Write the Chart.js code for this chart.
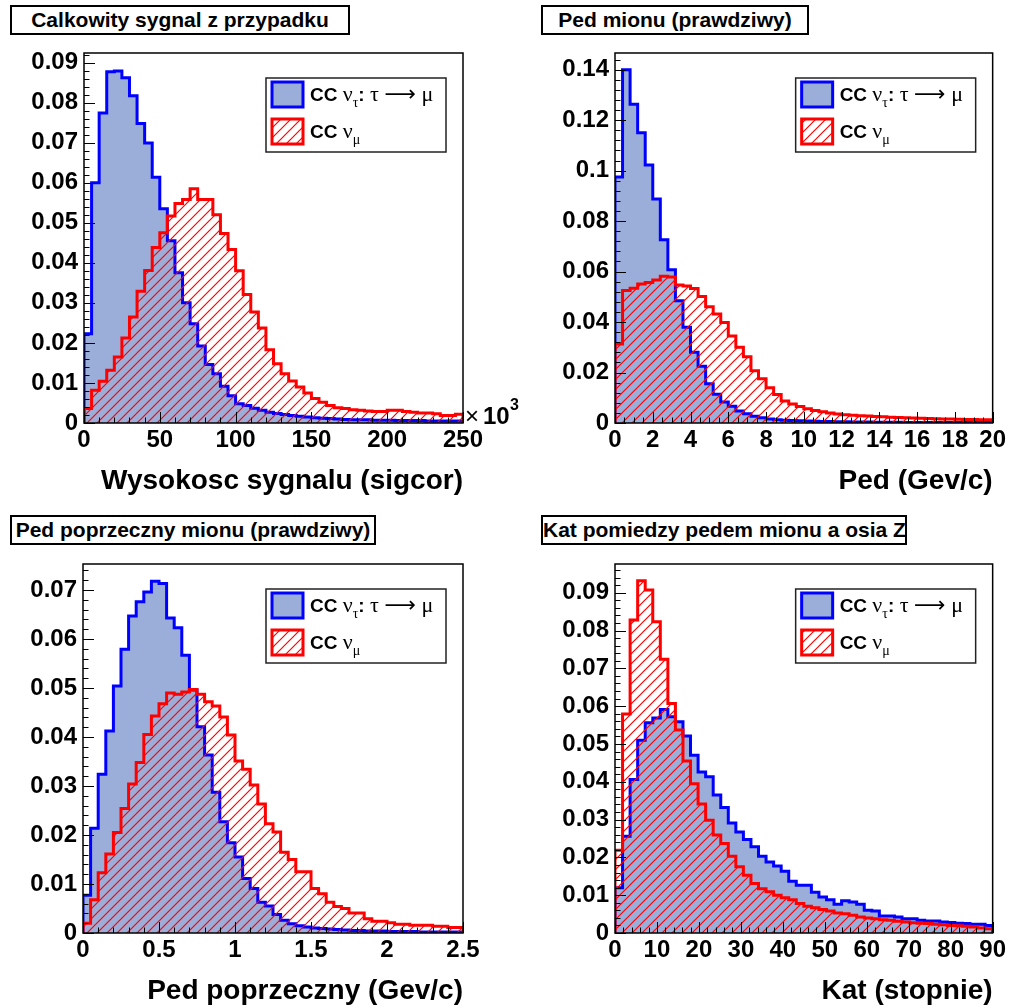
<!DOCTYPE html>
<html>
<head>
<meta charset="utf-8">
<script src="https://cdn.jsdelivr.net/npm/chart.js@4.4.0/dist/chart.umd.min.js"></script>
<style>
  html, body { margin: 0; padding: 0; background: #fff; overflow: hidden; }
  body { width: 1009px; height: 1008px; position: relative; }
  canvas { position: absolute; }
  .ttl {
    position: absolute; box-sizing: border-box; height: 30px;
    border: 2px solid #000; background: #fff; color: #000;
    font: bold 21px "Liberation Sans", Arial, sans-serif;
    line-height: 26px; text-align: center; white-space: nowrap;
  }
</style>
</head>
<body>
<canvas id="c1" width="530" height="500" style="left:0;top:0"></canvas>
<canvas id="c2" width="504" height="500" style="left:505px;top:0"></canvas>
<canvas id="c3" width="530" height="508" style="left:0;top:500px"></canvas>
<canvas id="c4" width="504" height="508" style="left:505px;top:500px"></canvas>
<div class="ttl" style="left:10px;top:5px;width:340px">Calkowity sygnal z przypadku</div>
<div class="ttl" style="left:541px;top:5px;width:268px">Ped mionu (prawdziwy)</div>
<div class="ttl" style="left:10px;top:515px;width:366px">Ped poprzeczny mionu (prawdziwy)</div>
<div class="ttl" style="left:541px;top:515px;width:366px">Kat pomiedzy pedem mionu a osia Z</div>
<script>
// ---- dane: 50 binow na kazdy histogram ----
const sigRange = [0, 250];
const sigTau = [0.0223, 0.0600, 0.0774, 0.0877, 0.0879, 0.0862, 0.0817, 0.0748, 0.0699, 0.0614,
  0.0535, 0.0455, 0.0375, 0.0300, 0.0248, 0.0192, 0.0146, 0.0123, 0.0092, 0.0068,
  0.0048, 0.0044, 0.0037, 0.0032, 0.0027, 0.0024, 0.0021, 0.0019, 0.0017, 0.0015,
  0.0013, 0.0012, 0.0011, 0.0010, 0.0009, 0.0008, 0.0008, 0.0008, 0.0007, 0.0007,
  0.0007, 0.0006, 0.0006, 0.0006, 0.0006, 0.0005, 0.0005, 0.0005, 0.0005, 0.0005];
const sigMu = [0.0036, 0.0082, 0.0104, 0.0132, 0.0165, 0.0212, 0.0265, 0.0329, 0.0381, 0.0438,
  0.0475, 0.0517, 0.0548, 0.0558, 0.0585, 0.0558, 0.0558, 0.0520, 0.0473, 0.0433,
  0.0380, 0.0321, 0.0277, 0.0237, 0.0183, 0.0148, 0.0123, 0.0105, 0.0090, 0.0075,
  0.0061, 0.0052, 0.0044, 0.0038, 0.0036, 0.0033, 0.0032, 0.0030, 0.0029, 0.0029,
  0.0032, 0.0032, 0.0029, 0.0027, 0.0025, 0.0025, 0.0023, 0.0019, 0.0019, 0.0022];
const sigXLabels = ['0', '50', '100', '150', '200', '250'];
const sigYLabels = ['0', '0.01', '0.02', '0.03', '0.04', '0.05', '0.06', '0.07', '0.08', '0.09'];

const pRange = [0, 20];
const pTau = [0.0975, 0.1400, 0.1263, 0.1150, 0.1022, 0.0888, 0.0726, 0.0607, 0.0484, 0.0379,
  0.0280, 0.0225, 0.0156, 0.0114, 0.0083, 0.0066, 0.0048, 0.0037, 0.0027, 0.0021,
  0.0016, 0.0013, 0.0011, 0.0010, 0.0009, 0.0008, 0.0007, 0.0006, 0.0006, 0.0005,
  0.0005, 0.0004, 0.0004, 0.0004, 0.0003, 0.0003, 0.0003, 0.0003, 0.0002, 0.0002,
  0.0002, 0.0002, 0.0002, 0.0002, 0.0002, 0.0002, 0.0002, 0.0002, 0.0002, 0.0002];
const pMu = [0.0313, 0.0525, 0.0534, 0.0551, 0.0557, 0.0567, 0.0581, 0.0578, 0.0547, 0.0543,
  0.0533, 0.0501, 0.0461, 0.0432, 0.0398, 0.0345, 0.0300, 0.0262, 0.0207, 0.0175,
  0.0140, 0.0113, 0.0087, 0.0075, 0.0065, 0.0056, 0.0050, 0.0045, 0.0040, 0.0036,
  0.0033, 0.0031, 0.0029, 0.0028, 0.0026, 0.0025, 0.0023, 0.0022, 0.0021, 0.0020,
  0.0019, 0.0018, 0.0017, 0.0016, 0.0016, 0.0015, 0.0014, 0.0014, 0.0013, 0.0013];
const pXLabels = ['0', '2', '4', '6', '8', '10', '12', '14', '16', '18', '20'];
const pYLabels = ['0', '0.02', '0.04', '0.06', '0.08', '0.1', '0.12', '0.14'];

const ptRange = [0, 2.5];
const ptTau = [0.0077, 0.0214, 0.0324, 0.0412, 0.0504, 0.0579, 0.0647, 0.0676, 0.0696, 0.0718,
  0.0713, 0.0643, 0.0623, 0.0567, 0.0496, 0.0421, 0.0363, 0.0287, 0.0227, 0.0184,
  0.0155, 0.0111, 0.0091, 0.0063, 0.0055, 0.0038, 0.0026, 0.0019, 0.0015, 0.0012,
  0.0010, 0.0009, 0.0008, 0.0007, 0.0006, 0.0005, 0.0005, 0.0004, 0.0004, 0.0004,
  0.0003, 0.0003, 0.0003, 0.0003, 0.0002, 0.0002, 0.0002, 0.0002, 0.0002, 0.0002];
const ptMu = [0.0020, 0.0068, 0.0123, 0.0161, 0.0205, 0.0254, 0.0304, 0.0348, 0.0405, 0.0443,
  0.0468, 0.0490, 0.0487, 0.0492, 0.0497, 0.0487, 0.0472, 0.0463, 0.0441, 0.0404,
  0.0351, 0.0334, 0.0302, 0.0263, 0.0223, 0.0206, 0.0165, 0.0150, 0.0125, 0.0125,
  0.0091, 0.0080, 0.0063, 0.0054, 0.0050, 0.0041, 0.0041, 0.0029, 0.0024, 0.0024,
  0.0021, 0.0018, 0.0018, 0.0016, 0.0016, 0.0016, 0.0014, 0.0014, 0.0011, 0.0011];
const ptXLabels = ['0', '0.5', '1', '1.5', '2', '2.5'];
const ptYLabels = ['0', '0.01', '0.02', '0.03', '0.04', '0.05', '0.06', '0.07'];

const katRange = [0, 90];
const katTau = [0.0120, 0.0256, 0.0406, 0.0510, 0.0556, 0.0569, 0.0591, 0.0572, 0.0559, 0.0521,
  0.0470, 0.0426, 0.0413, 0.0365, 0.0332, 0.0291, 0.0267, 0.0247, 0.0228, 0.0203,
  0.0188, 0.0177, 0.0163, 0.0137, 0.0126, 0.0126, 0.0108, 0.0095, 0.0088, 0.0076,
  0.0085, 0.0082, 0.0076, 0.0060, 0.0058, 0.0045, 0.0045, 0.0042, 0.0038, 0.0038,
  0.0034, 0.0032, 0.0032, 0.0029, 0.0028, 0.0026, 0.0025, 0.0023, 0.0023, 0.0020];
const katMu = [0.0219, 0.0579, 0.0828, 0.0932, 0.0907, 0.0823, 0.0724, 0.0607, 0.0537, 0.0455,
  0.0395, 0.0341, 0.0298, 0.0259, 0.0237, 0.0203, 0.0175, 0.0153, 0.0131, 0.0117,
  0.0109, 0.0100, 0.0093, 0.0088, 0.0078, 0.0071, 0.0067, 0.0062, 0.0058, 0.0053,
  0.0051, 0.0047, 0.0042, 0.0040, 0.0038, 0.0035, 0.0034, 0.0031, 0.0029, 0.0027,
  0.0026, 0.0025, 0.0023, 0.0022, 0.0020, 0.0019, 0.0018, 0.0016, 0.0013, 0.0011];
const katXLabels = ['0', '10', '20', '30', '40', '50', '60', '70', '80', '90'];
const katYLabels = ['0', '0.01', '0.02', '0.03', '0.04', '0.05', '0.06', '0.07', '0.08', '0.09'];

// tekst legendy: [tekst, styl]
const legTau = [['CC ', 'b'], ['ν', 'g'], ['τ', 's'], [':', 'b'], [' τ ', 'g'], ['⟶', 'a'], [' μ', 'g']];
const legMu = [['CC ', 'b'], ['ν', 'g'], ['μ', 's']];

// ---- wyglad ----
Chart.defaults.font.family = '"Liberation Sans", Arial, sans-serif';
Chart.defaults.color = '#000';

const blueFill = '#9aaed9';

// kreskowanie robione osobno dla kazdego canvasu
function makeHatch(ctx) {
  const t = document.createElement('canvas');
  t.width = 10; t.height = 10;
  const g = t.getContext('2d');
  g.strokeStyle = 'rgb(255,0,0)';
  g.lineWidth = 1.2;
  g.beginPath();
  g.moveTo(0, 10); g.lineTo(10, 0);
  g.moveTo(-2, 2); g.lineTo(2, -2);
  g.moveTo(8, 12); g.lineTo(12, 8);
  g.stroke();
  return ctx.createPattern(t, 'repeat');
}

const richStyles = {
  b: { font: 'bold 19px "Liberation Sans", Arial, sans-serif', dy: 0 },
  g: { font: '22px "Liberation Serif", "Times New Roman", serif', dy: 0 },
  a: { font: '22px "DejaVu Sans", sans-serif', dy: 0 },
  s: { font: '14px "Liberation Serif", "Times New Roman", serif', dy: 6 },
};

// punkty schodkowe histogramu (krawedzie binow)
function histPoints(range, vals) {
  const w = (range[1] - range[0]) / vals.length;
  const pts = [{ x: range[0], y: 0 }];
  vals.forEach((v, i) => pts.push({ x: range[0] + i * w, y: v }));
  pts.push({ x: range[1], y: vals[vals.length - 1] });
  pts.push({ x: range[1], y: 0 });
  return pts;
}

function steps(min, max, step) {
  const out = [];
  for (let k = 0; min + k * step <= max + step * 1e-6; k++) out.push(min + k * step);
  return out;
}

function drawRich(ctx, x, y, parts) {
  parts.forEach(([txt, st]) => {
    const s = richStyles[st];
    ctx.font = s.font;
    ctx.fillText(txt, x, y + s.dy);
    x += ctx.measureText(txt).width;
  });
}

// ramka w stylu ROOT, kreski do srodka, legenda w srodku
const rootFrame = {
  id: 'rootFrame',
  afterDatasetsDraw(chart, args, o) {
    const { ctx, chartArea: a, scales: { x, y } } = chart;
    ctx.save();
    ctx.strokeStyle = '#000';
    ctx.lineWidth = 1;
    ctx.beginPath();
    const xMaj = o.xLabels.map(Number);
    steps(x.min, x.max, o.xMinor).forEach((v) => {
      const px = Math.round(x.getPixelForValue(v)) + 0.5;
      const major = xMaj.some((m) => Math.abs(m - v) < o.xMinor / 10);
      ctx.moveTo(px, a.bottom);
      ctx.lineTo(px, a.bottom - (major ? 11 : 5.5));
    });
    const yMaj = o.yLabels.map(Number);
    steps(y.min, y.max, o.yMinor).forEach((v) => {
      const py = Math.round(y.getPixelForValue(v)) + 0.5;
      const major = yMaj.some((m) => Math.abs(m - v) < o.yMinor / 10);
      ctx.moveTo(a.left, py);
      ctx.lineTo(a.left + (major ? 11 : 5.5), py);
    });
    ctx.stroke();
    ctx.lineWidth = 1.5;
    ctx.strokeRect(a.left, a.top, a.right - a.left, a.bottom - a.top);
    ctx.restore();
  },
  afterDraw(chart, args, o) {
    const { ctx, chartArea: a } = chart;
    const ds = chart.data.datasets;
    const bx = a.right - 197, by = a.top + 25, bw = 180, bh = 74;
    ctx.save();
    ctx.fillStyle = '#fff';
    ctx.fillRect(bx, by, bw, bh);
    ctx.strokeStyle = '#222';
    ctx.lineWidth = 1.5;
    ctx.strokeRect(bx, by, bw, bh);
    [[ds[0], 4, 23, legTau], [ds[1], 41, 60, legMu]].forEach(([d, sy, ty, parts]) => {
      ctx.fillStyle = d.backgroundColor;
      ctx.fillRect(bx + 6, by + sy, 31, 25);
      ctx.strokeStyle = d.borderColor;
      ctx.lineWidth = 3;
      ctx.strokeRect(bx + 6, by + sy, 31, 25);
      ctx.fillStyle = '#000';
      ctx.textBaseline = 'alphabetic';
      drawRich(ctx, bx + 44, by + ty, parts);
    });
    if (o.exponent) {
      ctx.fillStyle = '#000';
      ctx.font = '24px "Liberation Sans", Arial, sans-serif';
      ctx.fillText('×', a.right + 2, a.bottom + 1);
      ctx.font = 'bold 24px "Liberation Sans", Arial, sans-serif';
      ctx.fillText('10', a.right + 20, a.bottom + 1);
      ctx.font = 'bold 16px "Liberation Sans", Arial, sans-serif';
      ctx.fillText('3', a.right + 47, a.bottom - 13);
    }
    ctx.restore();
  },
};

function makePanel(id, p) {
  const canvas = document.getElementById(id);
  const tickFont = { size: 24, weight: 'bold' };
  return new Chart(canvas, {
    type: 'line',
    data: {
      datasets: [
        {
          label: 'CC nu_tau',
          data: histPoints(p.range, p.tau),
          stepped: true,
          borderColor: '#0000ff',
          backgroundColor: blueFill,
          borderWidth: 3,
          borderJoinStyle: 'miter',
          fill: 'origin',
          pointRadius: 0,
          order: 2,
        },
        {
          label: 'CC nu_mu',
          data: histPoints(p.range, p.mu),
          stepped: true,
          borderColor: '#ff0000',
          backgroundColor: makeHatch(canvas.getContext('2d')),
          borderWidth: 3,
          borderJoinStyle: 'miter',
          fill: 'origin',
          pointRadius: 0,
          order: 1,
        },
      ],
    },
    options: {
      responsive: false,
      animation: false,
      events: [],
      layout: { autoPadding: false, padding: p.pad },
      plugins: {
        legend: { display: false },
        tooltip: { enabled: false },
        rootFrame: {
          xLabels: p.xLabels, yLabels: p.yLabels,
          xMinor: p.xMinor, yMinor: p.yMinor, exponent: p.exponent,
        },
      },
      scales: {
        x: {
          type: 'linear', min: p.range[0], max: p.range[1], bounds: 'data',
          grid: { display: false, drawTicks: false },
          border: { display: false },
          afterBuildTicks: (s) => { s.ticks = p.xLabels.map((l) => ({ value: Number(l) })); },
          ticks: {
            callback: (v, i) => p.xLabels[i], font: tickFont, padding: 3,
            autoSkip: false, maxRotation: 0, minRotation: 0,
          },
          title: {
            display: true, text: p.xTitle, align: 'end',
            font: { size: 28, weight: 'bold', lineHeight: 1 }, padding: { top: 0, bottom: 0 },
          },
          afterFit: (s) => { s.height = 72; },
        },
        y: {
          type: 'linear', min: 0, max: p.yMax, bounds: 'data',
          grid: { display: false, drawTicks: false },
          border: { display: false },
          afterBuildTicks: (s) => { s.ticks = p.yLabels.map((l) => ({ value: Number(l) })); },
          ticks: { callback: (v, i) => p.yLabels[i], font: tickFont, padding: 6, autoSkip: false },
          afterFit: (s) => { s.width = 70; },
        },
      },
    },
    plugins: [rootFrame],
  });
}

makePanel('c1', {
  range: sigRange, tau: sigTau, mu: sigMu, xLabels: sigXLabels, yLabels: sigYLabels,
  xMinor: 10, yMinor: 0.002, yMax: 0.0924, exponent: true,
  xTitle: 'Wysokosc sygnalu (sigcor)',
  pad: { left: 14, top: 53, right: 67, bottom: 5 },
});
makePanel('c2', {
  range: pRange, tau: pTau, mu: pMu, xLabels: pXLabels, yLabels: pYLabels,
  xMinor: 0.5, yMinor: 0.004, yMax: 0.1466, exponent: false,
  xTitle: 'Ped (Gev/c)',
  pad: { left: 40, top: 53, right: 15, bottom: 5 },
});
makePanel('c3', {
  range: ptRange, tau: ptTau, mu: ptMu, xLabels: ptXLabels, yLabels: ptYLabels,
  xMinor: 0.1, yMinor: 0.002, yMax: 0.0753, exponent: false,
  xTitle: 'Ped poprzeczny (Gev/c)',
  pad: { left: 13, top: 64, right: 67, bottom: 3 },
});
makePanel('c4', {
  range: katRange, tau: katTau, mu: katMu, xLabels: katXLabels, yLabels: katYLabels,
  xMinor: 2, yMinor: 0.002, yMax: 0.0976, exponent: false,
  xTitle: 'Kat (stopnie)',
  pad: { left: 40, top: 64, right: 15, bottom: 3 },
});
</script>
</body>
</html>
